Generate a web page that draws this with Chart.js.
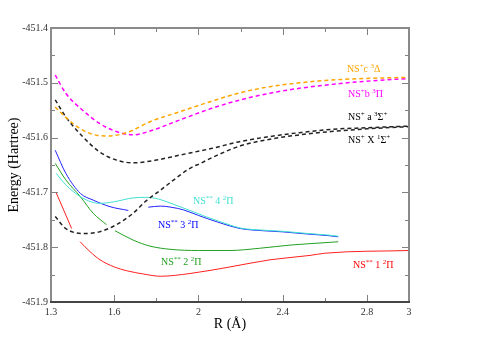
<!DOCTYPE html>
<html>
<head>
<meta charset="utf-8">
<script src="https://cdn.jsdelivr.net/npm/chart.js@4.4.0/dist/chart.umd.min.js"></script>
<style>
html, body { margin: 0; padding: 0; background: #fff; }
</style>
</head>
<body>
<canvas id="chart" width="478" height="338"></canvas>
<script>
// axis ticks
const xTicks = [1.3, 1.6, 2, 2.4, 2.8, 3];
const xMinor = [1.8, 2.2, 2.6];
const yTicks = [-451.9, -451.8, -451.7, -451.6, -451.5, -451.4];
const yMinor = [-451.85, -451.75, -451.65, -451.55, -451.45];

// NS+ c 3Delta (dashed, orange)
const rC = [1.32, 1.37, 1.42, 1.47, 1.52, 1.57, 1.62, 1.68, 1.77, 1.91, 2.06, 2.2, 2.34, 2.48, 2.63, 2.8, 3.0];
const eC = [-451.544, -451.563, -451.579, -451.590, -451.596, -451.597, -451.595, -451.588, -451.571, -451.553, -451.534, -451.518, -451.507, -451.500, -451.495, -451.492, -451.490];

// NS+ b 3Pi (dashed, magenta)
const rB = [1.32, 1.37, 1.45, 1.53, 1.61, 1.69, 1.77, 1.91, 2.06, 2.2, 2.34, 2.48, 2.63, 2.8, 3.0];
const eB = [-451.486, -451.519, -451.550, -451.574, -451.589, -451.595, -451.588, -451.568, -451.547, -451.531, -451.519, -451.510, -451.503, -451.497, -451.492];

// NS+ a 3Sigma+ (dashed, black)
const rA = [1.32, 1.37, 1.45, 1.53, 1.61, 1.69, 1.8, 1.91, 2.06, 2.2, 2.34, 2.48, 2.63, 2.8, 3.0];
const eA = [-451.531, -451.562, -451.598, -451.626, -451.641, -451.646, -451.641, -451.632, -451.620, -451.607, -451.598, -451.591, -451.585, -451.582, -451.579];

// NS+ X 1Sigma+ (dashed, black)
const rX = [1.32, 1.37, 1.46, 1.53, 1.61, 1.69, 1.75, 1.82, 1.88, 1.96, 2.01, 2.09, 2.2, 2.34, 2.48, 2.63, 2.8, 3.0];
const eX = [-451.744, -451.766, -451.775, -451.772, -451.759, -451.738, -451.716, -451.696, -451.678, -451.656, -451.647, -451.632, -451.615, -451.603, -451.595, -451.589, -451.584, -451.580];

// NS++ 4 2Pi (cyan)
const r4 = [1.324, 1.37, 1.44, 1.49, 1.53, 1.6, 1.69, 1.75, 1.81, 1.87, 1.96, 2.04, 2.1, 2.2, 2.31, 2.4, 2.52, 2.62, 2.664];
const e4 = [-451.665, -451.686, -451.708, -451.717, -451.720, -451.717, -451.710, -451.709, -451.712, -451.720, -451.733, -451.745, -451.753, -451.765, -451.769, -451.771, -451.775, -451.778, -451.780];

// NS++ 3 2Pi (blue), null = missing points
const r3 = [1.32, 1.37, 1.44, 1.5, 1.58, 1.667, 1.71, 1.762, 1.82, 1.87, 1.93, 2.0, 2.09, 2.2, 2.31, 2.4, 2.52, 2.62, 2.664];
const e3 = [-451.623, -451.665, -451.702, -451.714, -451.726, -451.733, null, -451.727, -451.725, -451.727, -451.732, -451.742, -451.754, -451.766, -451.770, -451.772, -451.776, -451.779, -451.781];

// NS++ 2 2Pi (green)
const r2 = [1.32, 1.37, 1.44, 1.5, 1.564, 1.585, 1.604, 1.69, 1.77, 1.87, 2.0, 2.15, 2.29, 2.44, 2.63, 2.664];
const e2 = [-451.647, -451.677, -451.708, -451.738, -451.759, null, -451.770, -451.787, -451.798, -451.804, -451.806, -451.806, -451.802, -451.796, -451.791, -451.790];

// NS++ 1 2Pi (red)
const r1 = [1.324, 1.36, 1.398, 1.42, 1.438, 1.485, 1.533, 1.6, 1.66, 1.74, 1.82, 1.96, 2.15, 2.34, 2.53, 2.6, 3.0];
const e1 = [-451.700, -451.732, -451.766, null, -451.790, -451.808, -451.823, -451.836, -451.843, -451.849, -451.853, -451.848, -451.836, -451.823, -451.815, -451.811, -451.806];

const SERIF = '"Liberation Serif", "DejaVu Serif", serif';

// curve labels: [parts, R, E, color]
const curveLabels = [
    [[['NS'], ['+', 1], ['c '], ['3', 1], ['\u0394']], 2.705, -451.480, '#ffa500'],
    [[['NS'], ['+', 1], ['b '], ['3', 1], ['\u03A0']], 2.71, -451.526, '#ff00ff'],
    [[['NS'], ['+', 1], [' a '], ['3', 1], ['\u03A3'], ['+', 1]], 2.71, -451.568, '#000000'],
    [[['NS'], ['+', 1], [' X '], ['1', 1], ['\u03A3'], ['+', 1]], 2.71, -451.610, '#000000'],
    [[['NS'], ['**', 1], [' 4 '], ['2', 1], ['\u03A0']], 1.974, -451.721, '#40e0d0'],
    [[['NS'], ['**', 1], [' 3 '], ['2', 1], ['\u03A0']], 1.808, -451.765, '#0000ff'],
    [[['NS'], ['**', 1], [' 2 '], ['2', 1], ['\u03A0']], 1.822, -451.832, '#22a022'],
    [[['NS'], ['**', 1], [' 1 '], ['2', 1], ['\u03A0']], 2.734, -451.838, '#ff0000'],
];

function pts(rs, es) {
    return rs.map((r, i) => ({ x: r, y: es[i] }));
}

function dashed(data, color) {
    return { data, borderColor: color, borderWidth: 1.5, borderDash: [4, 3], pointRadius: 0, cubicInterpolationMode: 'monotone' };
}

function solid(data, color) {
    return { data, borderColor: color, borderWidth: 1, pointRadius: 0, cubicInterpolationMode: 'monotone' };
}

function drawRich(ctx, parts, x, y, color) {
    ctx.fillStyle = color;
    ctx.textAlign = 'left';
    ctx.textBaseline = 'alphabetic';
    let cx = x;
    for (const [txt, sup] of parts) {
        ctx.font = (sup ? '7px ' : '10px ') + SERIF;
        ctx.fillText(txt, cx, sup ? y - 4 : y);
        cx += ctx.measureText(txt).width;
    }
}

// xmgrace-like frame with inward ticks, titles and curve labels
const framePlugin = {
    id: 'frame',
    afterDraw(chart) {
        const { ctx, chartArea: a, scales: { x, y } } = chart;
        ctx.save();
        ctx.lineWidth = 1;
        ctx.strokeStyle = '#808080';
        const vTick = (v, len) => {
            const px = Math.round(x.getPixelForValue(v)) + 0.5;
            ctx.beginPath();
            ctx.moveTo(px, a.bottom); ctx.lineTo(px, a.bottom - len);
            ctx.moveTo(px, a.top); ctx.lineTo(px, a.top + len);
            ctx.stroke();
        };
        const hTick = (v, len) => {
            const py = Math.round(y.getPixelForValue(v)) + 0.5;
            ctx.beginPath();
            ctx.moveTo(a.left, py); ctx.lineTo(a.left + len, py);
            ctx.moveTo(a.right, py); ctx.lineTo(a.right - len, py);
            ctx.stroke();
        };
        xTicks.forEach(v => vTick(v, 7));
        xMinor.forEach(v => vTick(v, 4));
        yTicks.forEach(v => hTick(v, 7));
        yMinor.forEach(v => hTick(v, 4));

        ctx.lineWidth = 2;
        ctx.strokeStyle = '#8a8a8a';
        ctx.beginPath();
        ctx.moveTo(a.left, a.bottom); ctx.lineTo(a.left, a.top);
        ctx.lineTo(a.right, a.top); ctx.lineTo(a.right, a.bottom);
        ctx.stroke();
        ctx.strokeStyle = '#444';
        ctx.beginPath();
        ctx.moveTo(a.left - 1, a.bottom); ctx.lineTo(a.right + 1, a.bottom);
        ctx.stroke();

        // axis titles
        ctx.fillStyle = '#000';
        ctx.font = '14px ' + SERIF;
        ctx.textAlign = 'center';
        ctx.textBaseline = 'middle';
        ctx.fillText('R (\u00C5)', (a.left + a.right) / 2, 324);
        ctx.save();
        ctx.translate(14, (a.top + a.bottom) / 2);
        ctx.rotate(-Math.PI / 2);
        ctx.fillText('Energy (Hartree)', 0, 0);
        ctx.restore();

        curveLabels.forEach(([parts, r, e, color]) => {
            drawRich(ctx, parts, x.getPixelForValue(r), y.getPixelForValue(e), color);
        });
        ctx.restore();
    },
};

new Chart(document.getElementById('chart'), {
    type: 'line',
    data: {
        datasets: [
            dashed(pts(rC, eC), '#ffa500'),
            dashed(pts(rB, eB), '#ff00ff'),
            dashed(pts(rA, eA), '#222222'),
            dashed(pts(rX, eX), '#222222'),
            solid(pts(r4, e4), '#40e0d0'),
            solid(pts(r3, e3), '#2222ff'),
            solid(pts(r2, e2), '#22a022'),
            solid(pts(r1, e1), '#ff2020'),
        ],
    },
    options: {
        responsive: false,
        animation: false,
        events: [],
        layout: { padding: { left: 0, top: 28, right: 69, bottom: 0 } },
        plugins: { legend: { display: false }, tooltip: { enabled: false } },
        scales: {
            x: {
                type: 'linear',
                min: 1.3,
                max: 3,
                afterBuildTicks: s => { s.ticks = xTicks.map(v => ({ value: v })); },
                afterFit: s => { s.height = 36; },
                grid: { display: false, drawTicks: false },
                border: { display: false },
                ticks: {
                    autoSkip: false,
                    maxRotation: 0,
                    padding: 4,
                    color: '#333',
                    font: { family: SERIF, size: 10 },
                    callback: v => String(v),
                },
            },
            y: {
                min: -451.9,
                max: -451.4,
                afterBuildTicks: s => { s.ticks = yTicks.map(v => ({ value: v })); },
                afterFit: s => { s.width = 51; },
                grid: { display: false, drawTicks: false },
                border: { display: false },
                ticks: {
                    autoSkip: false,
                    padding: 3,
                    color: '#333',
                    font: { family: SERIF, size: 10 },
                    callback: v => v.toFixed(1),
                },
            },
        },
    },
    plugins: [framePlugin],
});
</script>
</body>
</html>
